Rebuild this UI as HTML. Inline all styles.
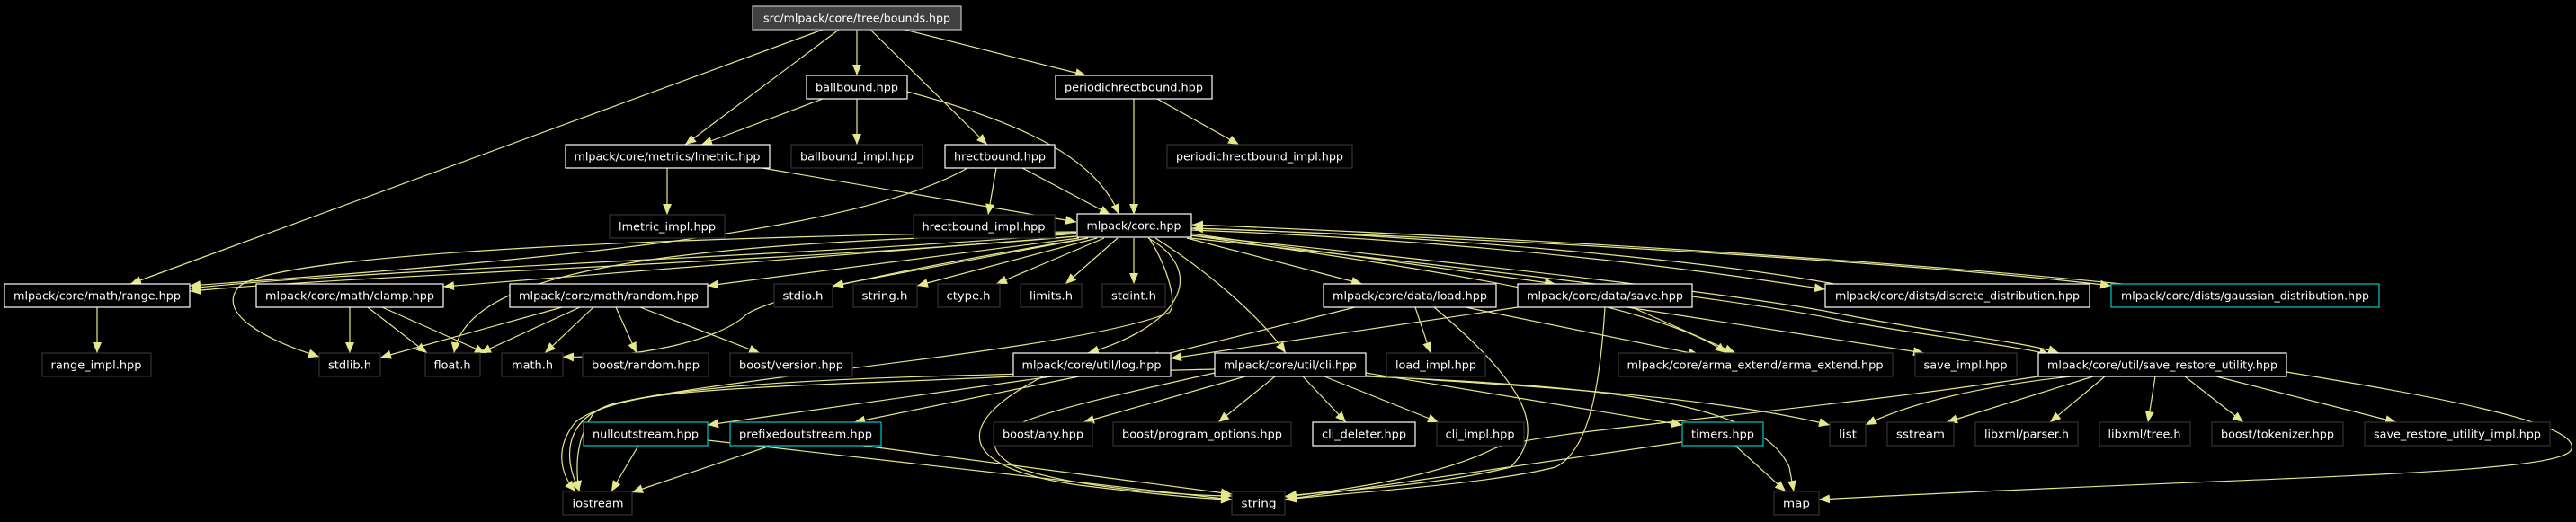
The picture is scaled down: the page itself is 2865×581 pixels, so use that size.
<!DOCTYPE html>
<html><head><meta charset="utf-8"><style>
html,body{margin:0;padding:0;background:#000;}
svg{display:block;}
text{font-family:"DejaVu Sans","Liberation Sans",sans-serif;font-size:12px;fill:#fff;}
.e{fill:none;stroke:#e6e68a;stroke-width:1.2;}
</style></head><body>
<svg width="2865" height="581" viewBox="0 0 2865 581" xmlns="http://www.w3.org/2000/svg">
<defs>
<marker id="a" markerUnits="userSpaceOnUse" markerWidth="12" markerHeight="10" refX="12" refY="5" orient="auto">
<path d="M0,0 L12,5 L0,10 Z" fill="#e6e68a"/>
</marker>
</defs>
<rect width="2865" height="581" fill="#000"/>
<g class="edges" marker-end="url(#a)">
<path class="e" marker-end="url(#a)" d="M915 33 L145 316"/>
<path class="e" marker-end="url(#a)" d="M933 33 L762 161"/>
<path class="e" marker-end="url(#a)" d="M953 33 L953 84"/>
<path class="e" marker-end="url(#a)" d="M968 33 L1098 161"/>
<path class="e" marker-end="url(#a)" d="M1006 33 L1208 84"/>
<path class="e" marker-end="url(#a)" d="M915 110 L780 161"/>
<path class="e" marker-end="url(#a)" d="M953 110 L953 161"/>
<path class="e" marker-end="url(#a)" d="M1009 102 C1150 140 1220 180 1245 239"/>
<path class="e" marker-end="url(#a)" d="M1261 110 L1261 239"/>
<path class="e" marker-end="url(#a)" d="M1287 110 L1378 161"/>
<path class="e" marker-end="url(#a)" d="M1108 187 L1099 239"/>
<path class="e" marker-end="url(#a)" d="M1137 187 L1235 239"/>
<path class="e" marker-end="url(#a)" d="M1076 187 C950 260 600 290 211 318"/>
<path class="e" marker-end="url(#a)" d="M742 187 L742 239"/>
<path class="e" marker-end="url(#a)" d="M848 187 L1197 247"/>
<path class="e" marker-end="url(#a)" d="M1197 260 C900 285 400 300 211 321"/>
<path class="e" marker-end="url(#a)" d="M1197 263 C900 290 420 305 211 324"/>
<path class="e" marker-end="url(#a)" d="M1197 263 L493 319"/>
<path class="e" marker-end="url(#a)" d="M1200 265 L787 318"/>
<path class="e" marker-end="url(#a)" d="M1210 265 L926 318"/>
<path class="e" marker-end="url(#a)" d="M1220 265 L1020 318"/>
<path class="e" marker-end="url(#a)" d="M1228 265 L1108 316"/>
<path class="e" marker-end="url(#a)" d="M1243 265 L1185 316"/>
<path class="e" marker-end="url(#a)" d="M1261 265 L1261 316"/>
<path class="e" marker-end="url(#a)" d="M1320 265 L1515 316"/>
<path class="e" marker-end="url(#a)" d="M1324 260 L1730 316"/>
<path class="e" marker-end="url(#a)" d="M1324 262 C1600 300 1850 340 1920 393"/>
<path class="e" marker-end="url(#a)" d="M1324 256 C1700 270 1950 310 2030 322"/>
<path class="e" marker-end="url(#a)" d="M1324 254 C1800 270 2200 300 2348 318"/>
<path class="e" marker-end="url(#a)" d="M2360 316 C2100 290 1700 265 1326 250"/>
<path class="e" marker-end="url(#a)" d="M2040 316 C1900 290 1600 262 1326 254"/>
<path class="e" marker-end="url(#a)" d="M1324 262 C1700 300 1950 330 2050 350 C2150 370 2250 380 2290 393"/>
<path class="e" marker-end="url(#a)" d="M1324 265 C1700 305 1950 336 2045 356 C2140 374 2240 384 2280 395"/>
<path class="e" marker-end="url(#a)" d="M1277 265 C1340 300 1320 360 1210 393"/>
<path class="e" marker-end="url(#a)" d="M1285 265 C1340 300 1400 350 1430 393"/>
<path class="e" marker-end="url(#a)" d="M1197 258 C800 262 300 280 265 320 C240 350 300 380 355 397"/>
<path class="e" marker-end="url(#a)" d="M1197 259 C800 270 520 290 505 393"/>
<path class="e" marker-end="url(#a)" d="M1210 265 C1000 300 860 330 830 350 C800 380 700 400 626 397"/>
<path class="e" marker-end="url(#a)" d="M1278 265 C1300 300 1310 340 1300 348 C1200 390 800 420 680 450 C620 470 630 520 645 547"/>
<path class="e" marker-end="url(#a)" d="M389 342 L389 393"/>
<path class="e" marker-end="url(#a)" d="M409 342 L475 393"/>
<path class="e" marker-end="url(#a)" d="M425 342 L540 393"/>
<path class="e" marker-end="url(#a)" d="M625 342 L423 398"/>
<path class="e" marker-end="url(#a)" d="M645 342 L534 393"/>
<path class="e" marker-end="url(#a)" d="M660 342 L606 393"/>
<path class="e" marker-end="url(#a)" d="M685 342 L708 393"/>
<path class="e" marker-end="url(#a)" d="M712 342 L845 393"/>
<path class="e" marker-end="url(#a)" d="M108 342 L108 393"/>
<path class="e" marker-end="url(#a)" d="M1507 342 L1277 399"/>
<path class="e" marker-end="url(#a)" d="M1574 342 L1591 393"/>
<path class="e" marker-end="url(#a)" d="M1630 342 L1890 395"/>
<path class="e" marker-end="url(#a)" d="M1595 342 C1700 430 1720 480 1680 520 C1600 540 1500 545 1430 552"/>
<path class="e" marker-end="url(#a)" d="M1688 342 L1302 399"/>
<path class="e" marker-end="url(#a)" d="M1810 342 L2140 393"/>
<path class="e" marker-end="url(#a)" d="M1815 342 L1930 393"/>
<path class="e" marker-end="url(#a)" d="M1785 342 C1780 420 1770 500 1730 520 C1650 540 1500 548 1430 556"/>
<path class="e" marker-end="url(#a)" d="M1170 419 L787 473"/>
<path class="e" marker-end="url(#a)" d="M1200 419 L950 470"/>
<path class="e" marker-end="url(#a)" d="M1127 419 C900 430 700 430 660 460 C640 490 640 520 644 547"/>
<path class="e" marker-end="url(#a)" d="M1160 419 C1060 470 1060 520 1200 540 C1300 552 1340 555 1370 556"/>
<path class="e" marker-end="url(#a)" d="M1385 419 L1205 470"/>
<path class="e" marker-end="url(#a)" d="M1418 419 L1355 470"/>
<path class="e" marker-end="url(#a)" d="M1449 419 L1497 470"/>
<path class="e" marker-end="url(#a)" d="M1473 419 L1600 470"/>
<path class="e" marker-end="url(#a)" d="M1519 415 L1871 473"/>
<path class="e" marker-end="url(#a)" d="M1519 418 C1700 430 1900 440 2035 473"/>
<path class="e" marker-end="url(#a)" d="M1519 419 C1800 430 1960 450 1990 520 L1995 547"/>
<path class="e" marker-end="url(#a)" d="M1351 415 C1150 460 1060 480 1130 520 C1200 545 1330 552 1370 552"/>
<path class="e" marker-end="url(#a)" d="M1351 411 C1000 420 700 420 640 470 C615 500 625 530 640 547"/>
<path class="e" marker-end="url(#a)" d="M710 496 L680 547"/>
<path class="e" marker-end="url(#a)" d="M787 490 L1370 556"/>
<path class="e" marker-end="url(#a)" d="M857 496 L703 548"/>
<path class="e" marker-end="url(#a)" d="M960 496 L1370 550"/>
<path class="e" marker-end="url(#a)" d="M1871 492 L1429 556"/>
<path class="e" marker-end="url(#a)" d="M1930 496 L1986 547"/>
<path class="e" marker-end="url(#a)" d="M2303 419 C2200 430 2120 450 2075 473"/>
<path class="e" marker-end="url(#a)" d="M2328 419 L2165 470"/>
<path class="e" marker-end="url(#a)" d="M2341 419 L2280 470"/>
<path class="e" marker-end="url(#a)" d="M2397 419 L2389 470"/>
<path class="e" marker-end="url(#a)" d="M2430 419 L2495 470"/>
<path class="e" marker-end="url(#a)" d="M2465 419 L2665 470"/>
<path class="e" marker-end="url(#a)" d="M2543 414 C2700 440 2870 470 2860 500 C2850 530 2500 530 2023 556"/>
<path class="e" marker-end="url(#a)" d="M2267 419 C2000 460 1700 480 1660 500 C1600 530 1500 545 1429 553"/>
</g>
<g stroke-width="1.2">
<rect x="837" y="7" width="232" height="26" fill="#404040" stroke="#c0c0c0"/>
<text x="953" y="24.5" text-anchor="middle" textLength="208" lengthAdjust="spacingAndGlyphs">src/mlpack/core/tree/bounds.hpp</text>

<rect x="897" y="84" width="112" height="26" fill="#000" stroke="#fff"/>
<text x="953" y="101.5" text-anchor="middle" textLength="92" lengthAdjust="spacingAndGlyphs">ballbound.hpp</text>
<rect x="1174" y="84" width="174" height="26" fill="#000" stroke="#fff"/>
<text x="1261" y="101.5" text-anchor="middle" textLength="154" lengthAdjust="spacingAndGlyphs">periodichrectbound.hpp</text>

<rect x="629" y="161" width="227" height="26" fill="#000" stroke="#fff"/>
<text x="742" y="178.5" text-anchor="middle" textLength="207" lengthAdjust="spacingAndGlyphs">mlpack/core/metrics/lmetric.hpp</text>
<rect x="880" y="161" width="146" height="26" fill="#000" stroke="#333"/>
<text x="953" y="178.5" text-anchor="middle" textLength="126" lengthAdjust="spacingAndGlyphs">ballbound_impl.hpp</text>
<rect x="1051" y="161" width="122" height="26" fill="#000" stroke="#fff"/>
<text x="1112" y="178.5" text-anchor="middle" textLength="102" lengthAdjust="spacingAndGlyphs">hrectbound.hpp</text>
<rect x="1298" y="161" width="206" height="26" fill="#000" stroke="#333"/>
<text x="1401" y="178.5" text-anchor="middle" textLength="186" lengthAdjust="spacingAndGlyphs">periodichrectbound_impl.hpp</text>

<rect x="678" y="239" width="128" height="26" fill="#000" stroke="#333"/>
<text x="742" y="256.5" text-anchor="middle" textLength="108" lengthAdjust="spacingAndGlyphs">lmetric_impl.hpp</text>
<rect x="1016" y="239" width="157" height="26" fill="#000" stroke="#333"/>
<text x="1094" y="256.5" text-anchor="middle" textLength="137" lengthAdjust="spacingAndGlyphs">hrectbound_impl.hpp</text>
<rect x="1198" y="238" width="127" height="26" fill="#000" stroke="#fff"/>
<text x="1261" y="255.5" text-anchor="middle" textLength="105" lengthAdjust="spacingAndGlyphs">mlpack/core.hpp</text>

<rect x="5" y="316" width="206" height="26" fill="#000" stroke="#fff"/>
<text x="108" y="333.5" text-anchor="middle" textLength="186" lengthAdjust="spacingAndGlyphs">mlpack/core/math/range.hpp</text>
<rect x="285" y="316" width="208" height="26" fill="#000" stroke="#fff"/>
<text x="389" y="333.5" text-anchor="middle" textLength="188" lengthAdjust="spacingAndGlyphs">mlpack/core/math/clamp.hpp</text>
<rect x="567" y="316" width="220" height="26" fill="#000" stroke="#fff"/>
<text x="677" y="333.5" text-anchor="middle" textLength="200" lengthAdjust="spacingAndGlyphs">mlpack/core/math/random.hpp</text>
<rect x="861" y="316" width="65" height="26" fill="#000" stroke="#333"/>
<text x="893" y="333.5" text-anchor="middle" textLength="45" lengthAdjust="spacingAndGlyphs">stdio.h</text>
<rect x="949" y="316" width="71" height="26" fill="#000" stroke="#333"/>
<text x="984" y="333.5" text-anchor="middle" textLength="51" lengthAdjust="spacingAndGlyphs">string.h</text>
<rect x="1043" y="316" width="69" height="26" fill="#000" stroke="#333"/>
<text x="1077" y="333.5" text-anchor="middle" textLength="49" lengthAdjust="spacingAndGlyphs">ctype.h</text>
<rect x="1135" y="316" width="68" height="26" fill="#000" stroke="#333"/>
<text x="1169" y="333.5" text-anchor="middle" textLength="48" lengthAdjust="spacingAndGlyphs">limits.h</text>
<rect x="1226" y="316" width="70" height="26" fill="#000" stroke="#333"/>
<text x="1261" y="333.5" text-anchor="middle" textLength="50" lengthAdjust="spacingAndGlyphs">stdint.h</text>
<rect x="1472" y="316" width="192" height="26" fill="#000" stroke="#fff"/>
<text x="1568" y="333.5" text-anchor="middle" textLength="172" lengthAdjust="spacingAndGlyphs">mlpack/core/data/load.hpp</text>
<rect x="1688" y="316" width="194" height="26" fill="#000" stroke="#fff"/>
<text x="1785" y="333.5" text-anchor="middle" textLength="174" lengthAdjust="spacingAndGlyphs">mlpack/core/data/save.hpp</text>
<rect x="2030" y="316" width="294" height="26" fill="#000" stroke="#fff"/>
<text x="2177" y="333.5" text-anchor="middle" textLength="272" lengthAdjust="spacingAndGlyphs">mlpack/core/dists/discrete_distribution.hpp</text>
<rect x="2348" y="316" width="298" height="26" fill="#000" stroke="#00c8c8"/>
<text x="2497" y="333.5" text-anchor="middle" textLength="276" lengthAdjust="spacingAndGlyphs">mlpack/core/dists/gaussian_distribution.hpp</text>

<rect x="47" y="393" width="121" height="26" fill="#000" stroke="#333"/>
<text x="107" y="410.5" text-anchor="middle" textLength="101" lengthAdjust="spacingAndGlyphs">range_impl.hpp</text>
<rect x="355" y="393" width="68" height="26" fill="#000" stroke="#333"/>
<text x="389" y="410.5" text-anchor="middle" textLength="48" lengthAdjust="spacingAndGlyphs">stdlib.h</text>
<rect x="473" y="393" width="61" height="26" fill="#000" stroke="#333"/>
<text x="503" y="410.5" text-anchor="middle" textLength="41" lengthAdjust="spacingAndGlyphs">float.h</text>
<rect x="558" y="393" width="68" height="26" fill="#000" stroke="#333"/>
<text x="592" y="410.5" text-anchor="middle" textLength="46" lengthAdjust="spacingAndGlyphs">math.h</text>
<rect x="648" y="393" width="140" height="26" fill="#000" stroke="#333"/>
<text x="718" y="410.5" text-anchor="middle" textLength="120" lengthAdjust="spacingAndGlyphs">boost/random.hpp</text>
<rect x="812" y="393" width="136" height="26" fill="#000" stroke="#333"/>
<text x="880" y="410.5" text-anchor="middle" textLength="116" lengthAdjust="spacingAndGlyphs">boost/version.hpp</text>
<rect x="1127" y="393" width="175" height="26" fill="#000" stroke="#fff"/>
<text x="1214" y="410.5" text-anchor="middle" textLength="155" lengthAdjust="spacingAndGlyphs">mlpack/core/util/log.hpp</text>
<rect x="1351" y="393" width="168" height="26" fill="#000" stroke="#fff"/>
<text x="1435" y="410.5" text-anchor="middle" textLength="148" lengthAdjust="spacingAndGlyphs">mlpack/core/util/cli.hpp</text>
<rect x="1542" y="393" width="110" height="26" fill="#000" stroke="#333"/>
<text x="1597" y="410.5" text-anchor="middle" textLength="90" lengthAdjust="spacingAndGlyphs">load_impl.hpp</text>
<rect x="1800" y="393" width="305" height="26" fill="#000" stroke="#333"/>
<text x="1952" y="410.5" text-anchor="middle" textLength="285" lengthAdjust="spacingAndGlyphs">mlpack/core/arma_extend/arma_extend.hpp</text>
<rect x="2130" y="393" width="113" height="26" fill="#000" stroke="#333"/>
<text x="2186" y="410.5" text-anchor="middle" textLength="93" lengthAdjust="spacingAndGlyphs">save_impl.hpp</text>
<rect x="2267" y="393" width="276" height="26" fill="#000" stroke="#fff"/>
<text x="2405" y="410.5" text-anchor="middle" textLength="256" lengthAdjust="spacingAndGlyphs">mlpack/core/util/save_restore_utility.hpp</text>

<rect x="649" y="470" width="138" height="26" fill="#000" stroke="#00c8c8"/>
<text x="718" y="487.5" text-anchor="middle" textLength="118" lengthAdjust="spacingAndGlyphs">nulloutstream.hpp</text>
<rect x="812" y="470" width="168" height="26" fill="#000" stroke="#00c8c8"/>
<text x="896" y="487.5" text-anchor="middle" textLength="148" lengthAdjust="spacingAndGlyphs">prefixedoutstream.hpp</text>
<rect x="1105" y="470" width="110" height="26" fill="#000" stroke="#333"/>
<text x="1160" y="487.5" text-anchor="middle" textLength="90" lengthAdjust="spacingAndGlyphs">boost/any.hpp</text>
<rect x="1238" y="470" width="198" height="26" fill="#000" stroke="#333"/>
<text x="1337" y="487.5" text-anchor="middle" textLength="178" lengthAdjust="spacingAndGlyphs">boost/program_options.hpp</text>
<rect x="1460" y="470" width="114" height="26" fill="#000" stroke="#fff"/>
<text x="1517" y="487.5" text-anchor="middle" textLength="94" lengthAdjust="spacingAndGlyphs">cli_deleter.hpp</text>
<rect x="1598" y="470" width="97" height="26" fill="#000" stroke="#333"/>
<text x="1646" y="487.5" text-anchor="middle" textLength="77" lengthAdjust="spacingAndGlyphs">cli_impl.hpp</text>
<rect x="1871" y="470" width="90" height="26" fill="#000" stroke="#00c8c8"/>
<text x="1916" y="487.5" text-anchor="middle" textLength="70" lengthAdjust="spacingAndGlyphs">timers.hpp</text>
<rect x="2035" y="470" width="40" height="26" fill="#000" stroke="#333"/>
<text x="2055" y="487.5" text-anchor="middle" textLength="20" lengthAdjust="spacingAndGlyphs">list</text>
<rect x="2099" y="470" width="74" height="26" fill="#000" stroke="#333"/>
<text x="2136" y="487.5" text-anchor="middle" textLength="54" lengthAdjust="spacingAndGlyphs">sstream</text>
<rect x="2197" y="470" width="114" height="26" fill="#000" stroke="#333"/>
<text x="2254" y="487.5" text-anchor="middle" textLength="94" lengthAdjust="spacingAndGlyphs">libxml/parser.h</text>
<rect x="2335" y="470" width="101" height="26" fill="#000" stroke="#333"/>
<text x="2385" y="487.5" text-anchor="middle" textLength="81" lengthAdjust="spacingAndGlyphs">libxml/tree.h</text>
<rect x="2460" y="470" width="146" height="26" fill="#000" stroke="#333"/>
<text x="2533" y="487.5" text-anchor="middle" textLength="126" lengthAdjust="spacingAndGlyphs">boost/tokenizer.hpp</text>
<rect x="2630" y="470" width="206" height="26" fill="#000" stroke="#333"/>
<text x="2733" y="487.5" text-anchor="middle" textLength="186" lengthAdjust="spacingAndGlyphs">save_restore_utility_impl.hpp</text>

<rect x="626" y="547" width="77" height="26" fill="#000" stroke="#333"/>
<text x="665" y="564.5" text-anchor="middle" textLength="57" lengthAdjust="spacingAndGlyphs">iostream</text>
<rect x="1370" y="547" width="59" height="26" fill="#000" stroke="#333"/>
<text x="1400" y="564.5" text-anchor="middle" textLength="39" lengthAdjust="spacingAndGlyphs">string</text>
<rect x="1973" y="547" width="50" height="26" fill="#000" stroke="#333"/>
<text x="1998" y="564.5" text-anchor="middle" textLength="30" lengthAdjust="spacingAndGlyphs">map</text>
</g>
</svg>
</body></html>
